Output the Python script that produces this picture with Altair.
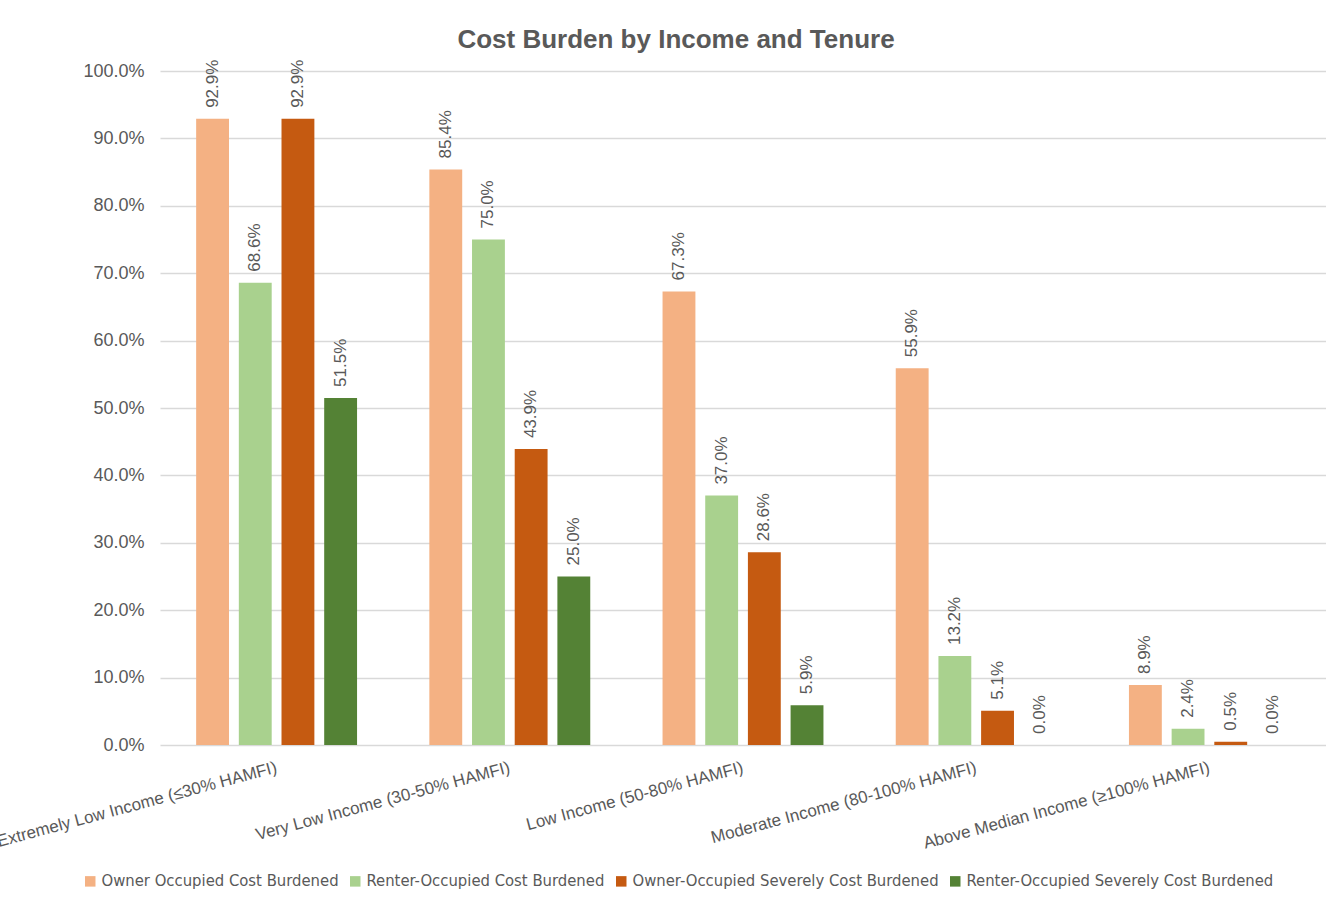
import altair as alt
import pandas as pd

categories = [
    "Extremely Low Income (≤30% HAMFI)",
    "Very Low Income (30-50% HAMFI)",
    "Low Income (50-80% HAMFI)",
    "Moderate Income (80-100% HAMFI)",
    "Above Median Income (≥100% HAMFI)",
]
series = [
    "Owner Occupied Cost Burdened",
    "Renter-Occupied Cost Burdened",
    "Owner-Occupied Severely Cost Burdened",
    "Renter-Occupied Severely Cost Burdened",
]
colors = ["#F4B183", "#A9D18E", "#C55A11", "#548235"]
y_ticks = [0.0, 0.1, 0.2, 0.3, 0.4, 0.5, 0.6, 0.7, 0.8, 0.9, 1.0]

owner_cb = [0.929, 0.854, 0.673, 0.559, 0.089]
renter_cb = [0.686, 0.750, 0.370, 0.132, 0.024]
owner_scb = [0.929, 0.439, 0.286, 0.051, 0.005]
renter_scb = [0.515, 0.250, 0.059, 0.000, 0.000]

rows = []
for s, vals in zip(series, [owner_cb, renter_cb, owner_scb, renter_scb]):
    for c, v in zip(categories, vals):
        rows.append({"category": c, "series": s, "value": v})
df = pd.DataFrame(rows)

gray = "#595959"
FONT = "Liberation Sans"

base = alt.Chart(df).encode(
    x=alt.X(
        "category:N",
        sort=categories,
        title=None,
        scale=alt.Scale(paddingInner=0.31, paddingOuter=0.155),
        axis=alt.Axis(
            labelAngle=-15,
            labelAlign="right",
            labelBaseline="middle",
            labelFontSize=17,
            labelColor=gray,
            labelFont=FONT,
            ticks=False,
            domain=False,
            labelPadding=22,
            labelLimit=400,
        ),
    ),
    xOffset=alt.XOffset("series:N", sort=series, scale=alt.Scale(paddingInner=0.23)),
    y=alt.Y(
        "value:Q",
        title=None,
        scale=alt.Scale(domain=[0, 1], nice=False),
        axis=alt.Axis(
            format=".1%",
            values=y_ticks,
            labelOverlap=False,
            labelFontSize=18,
            labelColor=gray,
            labelFont=FONT,
            labelPadding=16,
            ticks=False,
            domain=False,
            gridColor="#D9D9D9",
            gridWidth=1.3,
        ),
    ),
)

bars = base.mark_bar().encode(
    color=alt.Color(
        "series:N",
        sort=series,
        scale=alt.Scale(domain=series, range=colors),
        legend=alt.Legend(
            title=None,
            orient="none",
            direction="horizontal",
            legendX=-78,
            legendY=802,
            symbolType="square",
            symbolSize=110,
            symbolStrokeWidth=0,
            labelFontSize=16.5,
            labelColor=gray,
            labelFont="DejaVu Sans Condensed",
            columnPadding=8,
            labelOffset=3,
            labelLimit=400,
        ),
    )
)

labels = base.mark_text(
    angle=270,
    align="left",
    baseline="middle",
    dx=11,
    fontSize=17,
    color=gray,
    font=FONT,
).encode(text=alt.Text("value:Q", format=".1%"))

chart = (
    alt.layer(bars, labels)
    .properties(
        width=1166,
        height=674,
        title=alt.TitleParams(
            "Cost Burden by Income and Tenure",
            fontSize=26,
            fontWeight="bold",
            color=gray,
            font=FONT,
            anchor="middle",
            dx=-67,
            offset=7,
        ),
        autosize=alt.AutoSizeParams(type="none"),
        padding={"left": 160, "top": 71, "right": 0, "bottom": 160},
    )
    .configure_view(stroke=None)
)

chart.save("out.html", embed_options={"renderer": "svg", "actions": False})
